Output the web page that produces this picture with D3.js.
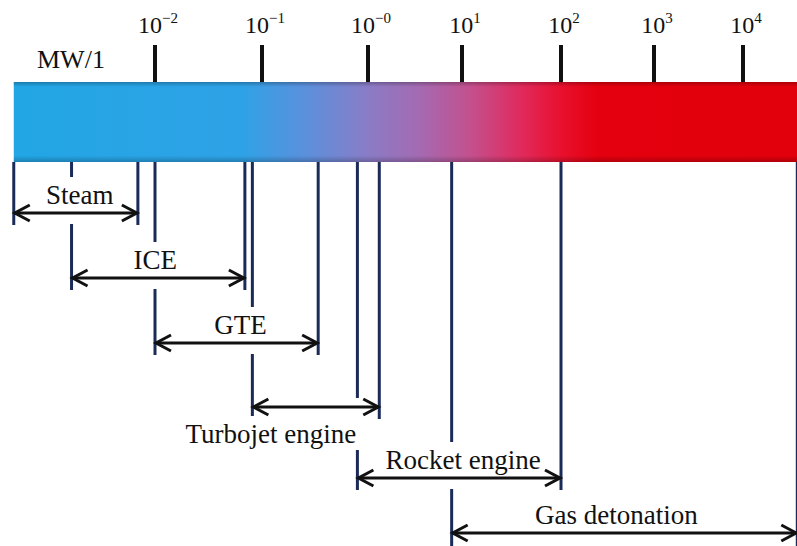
<!DOCTYPE html>
<html>
<head>
<meta charset="utf-8">
<script src="https://cdn.jsdelivr.net/npm/d3@7"></script>
<style>
  body { margin: 0; background: #fff; }
  text { font-family: "Liberation Serif", "Times New Roman", serif; fill: #111; }
</style>
</head>
<body>
<div id="chart"></div>
<script>
// power scale, decades of MW
const decades = [-2, -1, 0, 1, 2, 3, 4];
const tickBase = ["10", "10", "10", "10", "10", "10", "10"];
const tickExp = ["\u22122", "\u22121", "\u22120", "1", "2", "3", "4"];
const unitLabel = "MW/1";

// engine types and their power ranges (log10 MW)
const engines = ["Steam", "ICE", "GTE", "Turbojet engine", "Rocket engine", "Gas detonation"];
const lowExp = [-3.32, -2.78, -2, -1.09, -0.1, 0.89];
const highExp = [-2.16, -1.16, -0.47, 0.12, 2, 4.61];
const barExtent = [-3.32, 4.61];

const width = 797;
const height = 546;

// layout (pixels)
const tickPx = [155, 262, 368, 462, 561, 654, 743];
const rowY = [213, 278, 343, 407, 478, 533];
const labelDx = [4, -3, 4, -45, 4, -8];
const labelBelow = [false, false, false, true, false, false];
const barTop = 82, barBottom = 162;

const x = d3.scaleLinear().domain(decades).range(tickPx);
const y = d3.scaleOrdinal().domain(engines).range(rowY);

const rows = engines.map((name, i) => ({
  name: name, lo: lowExp[i], hi: highExp[i], dx: labelDx[i], below: labelBelow[i]
}));

const svg = d3.select("#chart").append("svg")
  .attr("width", width)
  .attr("height", height);

const defs = svg.append("defs");
const grad = defs.append("linearGradient")
  .attr("id", "power")
  .attr("gradientUnits", "userSpaceOnUse")
  .attr("x1", x(barExtent[0])).attr("x2", x(barExtent[1]))
  .attr("y1", 0).attr("y2", 0);
const stops = [
  [-3.32, "#22a6e4"], [-1.2, "#2ea2e6"], [-0.6, "#5a90dc"], [0, "#8a7cc6"],
  [0.55, "#a46ab2"], [1.1, "#c44f8c"], [1.6, "#e02a5c"], [2.0, "#e8102e"],
  [2.4, "#e4000e"], [4.61, "#e2000c"]
];
const span = x(barExtent[1]) - x(barExtent[0]);
grad.selectAll("stop").data(stops).join("stop")
  .attr("offset", d => (x(d[0]) - x(barExtent[0])) / span)
  .attr("stop-color", d => d[1]);

const shade = defs.append("linearGradient")
  .attr("id", "shade").attr("x1", 0).attr("x2", 0).attr("y1", 0).attr("y2", 1);
shade.append("stop").attr("offset", 0).attr("stop-color", "#000").attr("stop-opacity", 0.25);
shade.append("stop").attr("offset", 0.06).attr("stop-color", "#000").attr("stop-opacity", 0);
shade.append("stop").attr("offset", 0.92).attr("stop-color", "#000").attr("stop-opacity", 0);
shade.append("stop").attr("offset", 1).attr("stop-color", "#000").attr("stop-opacity", 0.22);

// gradient bar
svg.append("rect")
  .attr("x", x(barExtent[0])).attr("y", barTop)
  .attr("width", span).attr("height", barBottom - barTop)
  .attr("fill", "url(#power)");
svg.append("rect")
  .attr("x", x(barExtent[0])).attr("y", barTop)
  .attr("width", span).attr("height", barBottom - barTop)
  .attr("fill", "url(#shade)");

// top ticks and labels
svg.selectAll(".tick").data(decades).join("line")
  .attr("class", "tick")
  .attr("x1", d => x(d)).attr("x2", d => x(d))
  .attr("y1", 45).attr("y2", barTop)
  .attr("stroke", "#111").attr("stroke-width", 4);

const tl = svg.selectAll(".ticklabel").data(decades).join("text")
  .attr("class", "ticklabel")
  .attr("x", d => x(d) + 3).attr("y", 33)
  .attr("text-anchor", "middle")
  .style("font-size", "24px");
tl.append("tspan").text((d, i) => tickBase[i]);
tl.append("tspan").attr("dy", -10).style("font-size", "15px").text((d, i) => tickExp[i]);

svg.append("text")
  .attr("x", 37).attr("y", 68)
  .style("font-size", "26px")
  .text(unitLabel);

// guide lines down from the bar
const guides = [];
rows.forEach(r => {
  const end = r.name === "Gas detonation" ? height : y(r.name) + 12;
  guides.push({ v: r.lo, end: end });
  guides.push({ v: r.hi, end: end });
});
svg.append("g").selectAll("line").data(guides).join("line")
  .attr("x1", d => x(d.v)).attr("x2", d => x(d.v))
  .attr("y1", barBottom).attr("y2", d => d.end)
  .attr("stroke", "#1b2b58").attr("stroke-width", 3);

const knock = svg.append("g");
const arrows = svg.append("g");
const labels = svg.append("g");

// labels
const lab = labels.selectAll("text").data(rows).join("text")
  .attr("x", d => (x(d.lo) + x(d.hi)) / 2 + d.dx)
  .attr("y", d => y(d.name) + (d.below ? 36 : -9))
  .attr("text-anchor", "middle")
  .style("font-size", "27px")
  .text(d => d.name);

// white knockouts behind labels and arrow shafts
lab.each(function () {
  const b = this.getBBox();
  knock.append("rect")
    .attr("x", b.x - 4).attr("y", b.y - 3)
    .attr("width", b.width + 8).attr("height", b.height + 4)
    .attr("fill", "#fff");
});
knock.selectAll(".band").data(rows).join("rect")
  .attr("class", "band")
  .attr("x", d => x(d.lo) + 6)
  .attr("y", d => y(d.name) - 9)
  .attr("width", d => x(d.hi) - x(d.lo) - 12)
  .attr("height", 20)
  .attr("fill", "#fff");

// double-headed arrows
arrows.selectAll(".shaft").data(rows).join("line")
  .attr("class", "shaft")
  .attr("x1", d => x(d.lo) + 1).attr("x2", d => x(d.hi) - 1)
  .attr("y1", d => y(d.name)).attr("y2", d => y(d.name))
  .attr("stroke", "#111").attr("stroke-width", 3);
arrows.selectAll(".head").data(rows).join("path")
  .attr("class", "head")
  .attr("d", d => {
    const a = x(d.lo) + 1, b = x(d.hi) - 1, yy = y(d.name);
    return `M${a + 15},${yy - 8}L${a},${yy}L${a + 15},${yy + 8}` +
           `M${b - 15},${yy - 8}L${b},${yy}L${b - 15},${yy + 8}`;
  })
  .attr("fill", "none").attr("stroke", "#111").attr("stroke-width", 3);
</script>
</body>
</html>
